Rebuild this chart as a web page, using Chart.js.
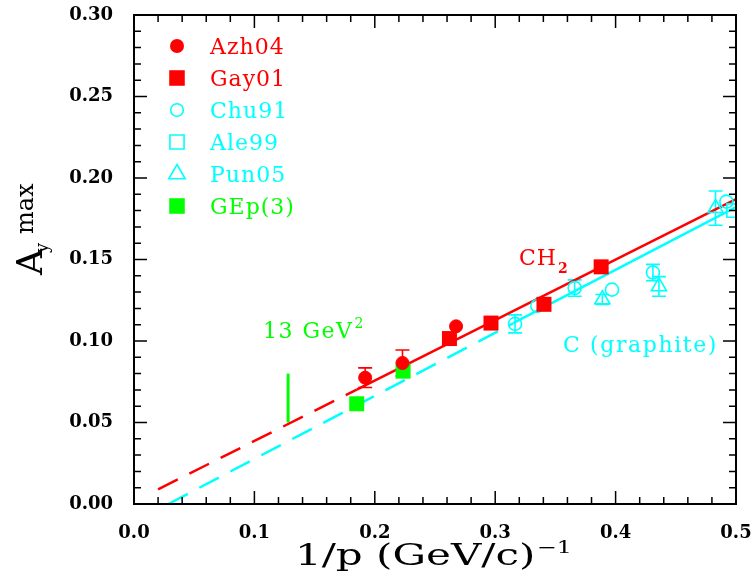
<!DOCTYPE html>
<html>
<head>
<meta charset="utf-8">
<script src="https://cdn.jsdelivr.net/npm/chart.js@4.4.1/dist/chart.umd.min.js"></script>
<style>
  html, body { margin: 0; padding: 0; background: #fff; }
  #contenedor { width: 751px; height: 587px; }
</style>
</head>
<body>
<div id="contenedor"><canvas id="grafica"></canvas></div>
<script>
var colorRojo = "#ff0000";
var colorCian = "#00ffff";
var colorVerde = "#00ff00";
var fuente = "'DejaVu Serif', serif";

// Datos
var azhX = [0.192, 0.223, 0.2675];
var azhY = [0.0775, 0.0865, 0.109];
var azhErr = [0.006, 0.008, 0];

var gayX = [0.262, 0.2965, 0.3405, 0.388];
var gayY = [0.1015, 0.111, 0.1225, 0.1455];

var chuX = [0.3165, 0.335, 0.366, 0.397, 0.431, 0.492];
var chuY = [0.1105, 0.1215, 0.1325, 0.1315, 0.142, 0.1855];
var chuErr = [0.0055, 0, 0.005, 0, 0.005, 0];

var aleX = [0.498];
var aleY = [0.180];

var punX = [0.389, 0.436, 0.483];
var punY = [0.1255, 0.1335, 0.1815];
var punErr = [0.003, 0.006, 0.0105];

var gepX = [0.185, 0.2235];
var gepY = [0.0615, 0.0815];

// Ajustes lineales (tramo discontinuo + tramo continuo)
var lineaCH2X = [0.02, 0.185, 0.5];
var lineaCH2Y = [0.0090, 0.0702, 0.1870];
var lineaCX = [0.0285, 0.315, 0.5];
var lineaCY = [0.0, 0.1109, 0.1822];

var marca13X = [0.128, 0.128];
var marca13Y = [0.050, 0.080];

function puntos(xs, ys, errs) {
  return xs.map(function (x, i) {
    return { x: x, y: ys[i], err: errs ? errs[i] : 0 };
  });
}

function punteado(ctx) {
  return ctx.p0DataIndex === 0 ? [22, 13] : [];
}

var datosGrafica = {
  datasets: [
    { label: 'Azh04', data: puntos(azhX, azhY, azhErr), pointStyle: 'circle', pointRadius: 6.5,
      backgroundColor: colorRojo, borderColor: colorRojo, borderWidth: 1, showLine: false, enLeyenda: true, lleno: true },
    { label: 'Gay01', data: puntos(gayX, gayY), pointStyle: 'rect', pointRadius: 10.6,
      backgroundColor: colorRojo, borderColor: colorRojo, borderWidth: 0, showLine: false, enLeyenda: true, lleno: true },
    { label: 'Chu91', data: puntos(chuX, chuY, chuErr), pointStyle: 'circle', pointRadius: 6.5,
      backgroundColor: 'rgba(0,0,0,0)', borderColor: colorCian, borderWidth: 1.6, showLine: false, enLeyenda: true },
    { label: 'Ale99', data: puntos(aleX, aleY), pointStyle: 'rect', pointRadius: 9.5,
      backgroundColor: 'rgba(0,0,0,0)', borderColor: colorCian, borderWidth: 1.6, showLine: false, enLeyenda: true },
    { label: 'Pun05', data: puntos(punX, punY, punErr), pointStyle: 'triangle', pointRadius: 8.7,
      backgroundColor: 'rgba(0,0,0,0)', borderColor: colorCian, borderWidth: 1.6, showLine: false, enLeyenda: true },
    { label: 'GEp(3)', data: puntos(gepX, gepY), pointStyle: 'rect', pointRadius: 10.6,
      backgroundColor: colorVerde, borderColor: colorVerde, borderWidth: 0, showLine: false, enLeyenda: true, lleno: true },
    { label: 'CH2', data: puntos(lineaCH2X, lineaCH2Y), showLine: true, pointRadius: 0,
      borderColor: colorRojo, borderWidth: 2.5, segment: { borderDash: punteado } },
    { label: 'C', data: puntos(lineaCX, lineaCY), showLine: true, pointRadius: 0,
      borderColor: colorCian, borderWidth: 2.5, segment: { borderDash: punteado } },
    { label: '13 GeV2', data: puntos(marca13X, marca13Y), showLine: true, pointRadius: 0,
      borderColor: colorVerde, borderWidth: 3 }
  ]
};

// Barras de error
var barrasError = {
  id: 'barrasError',
  beforeDatasetsDraw: function (chart) {
    var ctx = chart.ctx;
    var ey = chart.scales.y;
    ctx.save();
    chart.data.datasets.forEach(function (ds, k) {
      var meta = chart.getDatasetMeta(k);
      ds.data.forEach(function (p, i) {
        if (!p.err) return;
        var px = meta.data[i].x;
        var y1 = ey.getPixelForValue(p.y + p.err);
        var y2 = ey.getPixelForValue(p.y - p.err);
        ctx.strokeStyle = ds.borderColor;
        ctx.lineWidth = 1.6;
        ctx.beginPath();
        ctx.moveTo(px, y1); ctx.lineTo(px, y2);
        ctx.moveTo(px - 7, y1); ctx.lineTo(px + 7, y1);
        ctx.moveTo(px - 7, y2); ctx.lineTo(px + 7, y2);
        ctx.stroke();
      });
    });
    ctx.restore();
  }
};

function texto(ctx, t, x, y, tam, espacio) {
  ctx.font = tam + 'px ' + fuente;
  ctx.letterSpacing = (espacio || 0) + 'px';
  ctx.fillText(t, x, y);
  var w = ctx.measureText(t).width;
  ctx.letterSpacing = '0px';
  return w;
}

// Marco, marcas internas, leyenda y textos
var decoracion = {
  id: 'decoracion',
  afterDraw: function (chart) {
    var ctx = chart.ctx;
    var a = chart.chartArea;
    var ex = chart.scales.x, ey = chart.scales.y;
    ctx.save();
    ctx.strokeStyle = '#000';
    ctx.lineWidth = 1.5;
    ctx.beginPath();
    for (var i = 0; i <= 25; i++) {
      var px = ex.getPixelForValue(i * 0.02);
      var largo = i % 5 === 0 ? 13 : 7;
      ctx.moveTo(px, a.bottom); ctx.lineTo(px, a.bottom - largo);
      ctx.moveTo(px, a.top); ctx.lineTo(px, a.top + largo);
    }
    for (var j = 0; j <= 30; j++) {
      var py = ey.getPixelForValue(j * 0.01);
      var largoY = j % 5 === 0 ? 13 : 7;
      ctx.moveTo(a.left, py); ctx.lineTo(a.left + largoY, py);
      ctx.moveTo(a.right, py); ctx.lineTo(a.right - largoY, py);
    }
    ctx.stroke();
    ctx.lineWidth = 2;
    ctx.strokeRect(a.left, a.top, a.right - a.left, a.bottom - a.top);

    // leyenda
    var fila = 0;
    ctx.textAlign = 'left';
    ctx.textBaseline = 'alphabetic';
    chart.data.datasets.forEach(function (ds) {
      if (!ds.enLeyenda) return;
      var yy = 46 + fila * 32;
      ctx.fillStyle = ds.backgroundColor;
      ctx.strokeStyle = ds.borderColor;
      ctx.lineWidth = 1.6;
      var r = ds.pointStyle === 'circle' ? (ds.lleno ? 7 : 6.3) : (ds.pointStyle === 'rect' ? (ds.lleno ? 11 : 10) : 9.5);
      Chart.helpers.drawPoint(ctx, { pointStyle: ds.pointStyle, rotation: 0, radius: r, borderWidth: ds.lleno ? 0 : 1.6 }, 177, yy);
      ctx.fillStyle = ds.borderColor;
      texto(ctx, ds.label, 210, yy + 8, 22, 1);
      fila++;
    });

    // anotaciones
    ctx.fillStyle = colorVerde;
    var w13 = texto(ctx, '13 GeV', 263, 338, 22, 1.5);
    texto(ctx, '2', 263 + w13 + 1, 328, 14, 0);

    ctx.fillStyle = colorRojo;
    var wCH = texto(ctx, 'CH', 519, 265, 22, 1);
    ctx.font = 'bold 14px ' + fuente;
    ctx.fillText('2', 519 + wCH + 1, 273);

    ctx.fillStyle = colorCian;
    texto(ctx, 'C (graphite)', 563, 352, 22, 1.6);

    // titulo eje x (tipografia ensanchada)
    ctx.fillStyle = '#000';
    ctx.save();
    ctx.translate(295, 565);
    ctx.scale(1.4, 1);
    var wtx = texto(ctx, '1/p (GeV/c)', 0, 0, 30, 0);
    texto(ctx, '\u22121', wtx + 1, -12, 17, 0);
    ctx.restore();

    // titulo eje y
    ctx.translate(42, 275);
    ctx.rotate(-Math.PI / 2);
    var wA = texto(ctx, 'A', 0, 0, 36, 0);
    texto(ctx, 'y', wA - 4, 6, 18, 0);
    texto(ctx, 'max', wA + 15, -9, 24, 0);
    ctx.restore();
  }
};

var configuracion = {
  type: 'scatter',
  data: datosGrafica,
  options: {
    responsive: true,
    maintainAspectRatio: false,
    animation: false,
    layout: { padding: { left: 0, right: 15, top: 15, bottom: 0 } },
    plugins: { legend: { display: false }, tooltip: { enabled: false } },
    scales: {
      x: {
        type: 'linear', min: 0, max: 0.5,
        grid: { display: false, drawTicks: false },
        border: { display: false },
        ticks: {
          stepSize: 0.1, padding: 19, color: '#000',
          font: { family: fuente, size: 18, weight: 'bold' },
          callback: function (v) { return v.toFixed(1); }
        },
        afterFit: function (s) { s.height = 83; s.paddingLeft = 0; s.paddingRight = 0; }
      },
      y: {
        type: 'linear', min: 0, max: 0.3,
        grid: { display: false, drawTicks: false },
        border: { display: false },
        ticks: {
          stepSize: 0.05, padding: 21, color: '#000',
          font: { family: fuente, size: 18, weight: 'bold' },
          callback: function (v) { return v.toFixed(2); }
        },
        afterFit: function (s) { s.width = 134; s.paddingTop = 0; s.paddingBottom = 0; }
      }
    }
  },
  plugins: [barrasError, decoracion]
};

var graficaJavascript = new Chart(document.getElementById('grafica'), configuracion);
</script>
</body>
</html>
